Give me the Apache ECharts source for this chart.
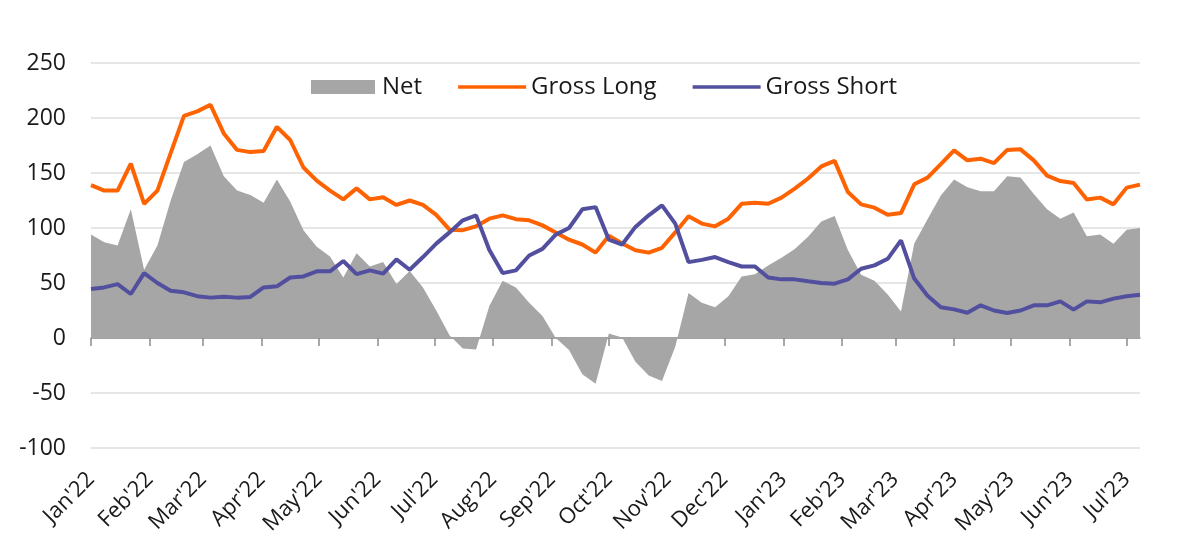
<!DOCTYPE html>
<html>
<head>
<meta charset="utf-8">
<script src="https://cdn.jsdelivr.net/npm/echarts@6/dist/echarts.min.js"></script>
<style>
  html, body { margin: 0; padding: 0; background: #fff; }
  #chart { width: 1200px; height: 552px; }
</style>
</head>
<body>
<div id="chart"></div>
<script>
// weekly data, first report date and number of weeks
const startDate = '2022-01-04'
const weekCount = 80

const netValues = [
  94, 87, 84, 117, 62, 84, 125, 160, 167, 175,
  147, 134, 130, 123, 144, 124, 98, 83, 74, 55,
  77, 65, 69, 49, 61, 46, 25, 2.5, -9.5, -10.5,
  29, 52, 46, 32, 20, 0, -11, -33, -41.5, 4,
  0.5, -21.5, -34, -39, -8, 41, 32, 28, 38, 56,
  58, 66, 73, 81, 92, 106, 111, 80, 57.5, 52,
  39.5, 24, 86, 108, 129.5, 144, 137, 133.5, 133.5, 147,
  146, 131, 117, 108.5, 114, 92.5, 94, 85.7, 98.5, 100
]

const grossLong = [
  139, 134, 134, 158.5, 122, 134, 168, 202, 206, 212,
  186, 171, 169, 170, 192, 180, 155, 143, 134, 126,
  136, 126, 128, 121, 125, 121, 112, 98.5, 98, 101.5,
  108.5, 111.5, 108, 107, 102.4, 96, 89.4, 85, 77.6, 93,
  86, 79.7, 77.6, 82, 96, 110.6, 104, 101.5, 108.5, 122,
  123, 122, 127.6, 135.8, 145, 156, 161, 132.7, 121.5, 118.5,
  112, 113.6, 139.7, 145.8, 158, 170.6, 161.5, 163, 159, 171,
  171.5, 161.5, 147.6, 142.7, 141, 126, 127.6, 121.5, 136.7, 139.4
]

const grossShort = [
  44.5, 46, 49, 40, 59, 50, 43, 41.5, 38, 36.7,
  37.6, 36.7, 37.3, 46, 47, 55, 56, 60.6, 60.6, 70,
  58, 61.5, 58.5, 71.5, 62, 73.6, 85.8, 96, 107, 111.5,
  80, 59, 61.5, 75, 81, 94, 100, 117, 119, 89.4,
  85, 101, 111.5, 120.6, 104, 69, 71, 73.6, 69, 65,
  65, 55, 53.3, 53.3, 51.5, 50, 49.4, 53.3, 63, 66,
  72, 88.8, 54, 38.5, 28, 26, 23, 29.7, 25, 22.7,
  25, 29.7, 29.7, 33.3, 25.8, 33.3, 32.4, 35.8, 38, 39.4
]

// month ticks sit on the 4th (date axis stepping from the first date)
const monthTicks = [
  '2022-01-04', '2022-02-04', '2022-03-04', '2022-04-04', '2022-05-04',
  '2022-06-04', '2022-07-04', '2022-08-04', '2022-09-04', '2022-10-04',
  '2022-11-04', '2022-12-04', '2023-01-04', '2023-02-04', '2023-03-04',
  '2023-04-04', '2023-05-04', '2023-06-04', '2023-07-04'
]
const monthNames = ['Jan', 'Feb', 'Mar', 'Apr', 'May', 'Jun', 'Jul', 'Aug', 'Sep', 'Oct', 'Nov', 'Dec']

const yTicks = { min: -100, max: 250, interval: 50 }

const DAY = 24 * 3600 * 1000
function toTime (s) {
  const p = s.split('-')
  return Date.UTC(+p[0], +p[1] - 1, +p[2])
}

const t0 = toTime(startDate)
const dates = []
for (let i = 0; i < weekCount; i++) {
  dates.push(t0 + i * 7 * DAY)
}
const tickTimes = monthTicks.map(toTime)

function pairs (values) {
  return values.map((v, i) => [dates[i], v])
}

function monthLabel (val) {
  const d = new Date(val)
  return monthNames[d.getUTCMonth()] + "'" + String(d.getUTCFullYear()).slice(2)
}

const fontFamily = 'Open Sans, Noto Sans, sans-serif'
const textColor = '#1a1a1a'
const netColor = '#a6a6a6'
const longColor = '#ff6200'
const shortColor = '#524f9e'

const chart = echarts.init(document.getElementById('chart'))

chart.setOption({
  animation: false,
  backgroundColor: '#fff',
  textStyle: { fontFamily: fontFamily },
  grid: { left: 91, right: 60, top: 63, bottom: 104, containLabel: false },
  legend: {
    left: 306,
    top: 70,
    itemWidth: 68,
    itemHeight: 14,
    itemGap: 36,
    symbolKeepAspect: true,
    textStyle: { fontSize: 24, color: textColor, fontFamily: fontFamily },
    data: [
      { name: 'Net', icon: 'path://M0,0H64V14H0Z' },
      { name: 'Gross Long', icon: 'path://M0,0H68V3.6H0Z' },
      { name: 'Gross Short', icon: 'path://M0,0H68V3.6H0Z' }
    ]
  },
  xAxis: [
    {
      type: 'value',
      min: dates[0],
      max: dates[dates.length - 1],
      axisLine: { onZero: true, lineStyle: { color: '#8c8c8c', width: 1.5 } },
      axisTick: { show: true, length: 8, customValues: tickTimes, lineStyle: { color: '#8c8c8c', width: 1.5 } },
      axisLabel: { show: false },
      splitLine: { show: false }
    },
    {
      type: 'value',
      position: 'bottom',
      min: dates[0],
      max: dates[dates.length - 1],
      axisLine: { show: false, onZero: false },
      axisTick: { show: false },
      splitLine: { show: false },
      axisLabel: {
        customValues: tickTimes,
        formatter: monthLabel,
        rotate: 45,
        margin: 28,
        fontSize: 22,
        color: textColor,
        fontFamily: fontFamily
      }
    }
  ],
  yAxis: {
    type: 'value',
    min: yTicks.min,
    max: yTicks.max,
    interval: yTicks.interval,
    axisLine: { show: false },
    axisTick: { show: false },
    axisLabel: { fontSize: 23, color: textColor, margin: 25, fontFamily: fontFamily },
    splitLine: { lineStyle: { color: '#dedede', width: 1.5 } }
  },
  series: [
    {
      name: 'Net',
      type: 'line',
      xAxisIndex: 0,
      data: pairs(netValues),
      symbol: 'none',
      color: netColor,
      lineStyle: { width: 0 },
      areaStyle: { color: netColor, opacity: 1 },
      z: 1
    },
    {
      name: 'Gross Long',
      type: 'line',
      xAxisIndex: 0,
      data: pairs(grossLong),
      symbol: 'none',
      color: longColor,
      lineStyle: { width: 4, color: longColor },
      z: 3
    },
    {
      name: 'Gross Short',
      type: 'line',
      xAxisIndex: 0,
      data: pairs(grossShort),
      symbol: 'none',
      color: shortColor,
      lineStyle: { width: 4, color: shortColor },
      z: 4
    }
  ]
})
</script>
</body>
</html>
